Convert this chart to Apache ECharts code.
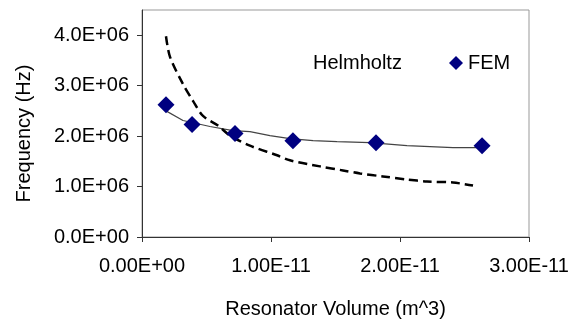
<!DOCTYPE html>
<html>
<head>
<meta charset="utf-8">
<script src="https://cdn.jsdelivr.net/npm/echarts@6/dist/echarts.min.js"></script>
<style>
  html, body { margin: 0; padding: 0; background: #fff; }
  #chart { width: 581px; height: 324px; }
</style>
</head>
<body>
<div id="chart"></div>
<script>
// axis ticks
var xTicks = [0, 1e-11, 2e-11, 3e-11];
var yTicks = [0, 1e6, 2e6, 3e6, 4e6];

// FEM points (diamonds)
var femX = [1.86e-12, 3.88e-12, 7.21e-12, 1.17e-11, 1.814e-11, 2.636e-11];
var femY = [2.62e6, 2.23e6, 2.05e6, 1.91e6, 1.87e6, 1.81e6];

// thin solid curve through the FEM points
var fitX = [1.86e-12, 3.18e-12, 5.27e-12, 7.05e-12, 8.37e-12, 9.92e-12, 1.147e-11, 1.326e-11, 1.512e-11, 1.767e-11, 2.054e-11, 2.411e-11, 2.62e-11];
var fitY = [2.50e6, 2.31e6, 2.19e6, 2.11e6, 2.09e6, 2.01e6, 1.95e6, 1.91e6, 1.89e6, 1.87e6, 1.81e6, 1.77e6, 1.77e6];

// Helmholtz estimate (dashed)
var helmX = [1.86e-12, 2.17e-12, 3.18e-12, 3.95e-12, 4.73e-12, 5.89e-12, 6.82e-12, 8.37e-12, 1.047e-11, 1.147e-11, 1.38e-11, 1.558e-11, 1.69e-11, 1.868e-11, 2.054e-11, 2.209e-11, 2.411e-11, 2.566e-11];
var helmY = [3.98e6, 3.57e6, 3.03e6, 2.70e6, 2.40e6, 2.21e6, 2.01e6, 1.81e6, 1.62e6, 1.52e6, 1.40e6, 1.32e6, 1.26e6, 1.20e6, 1.14e6, 1.10e6, 1.08e6, 1.02e6];

function pairs(xs, ys) {
    return xs.map(function (x, i) { return [x, ys[i]]; });
}

// Excel style scientific labels, e.g. 1.00E-11
function sci(v, digits) {
    var s = v.toExponential(digits).toUpperCase();
    var parts = s.split('E');
    var sign = parts[1].charAt(0);
    var exp = parts[1].slice(1);
    if (exp.length < 2) exp = '0' + exp;
    return parts[0] + 'E' + sign + exp;
}

var font = 'Liberation Sans, Arial, sans-serif';
var chart = echarts.init(document.getElementById('chart'));

var option = {
    animation: false,
    textStyle: { fontFamily: font },
    grid: {
        left: 142,
        right: 52,
        top: 10,
        bottom: 85,
        show: true,
        borderColor: '#999',
        borderWidth: 1
    },
    legend: [
        {
            data: [{ name: 'Helmholtz', icon: 'none' }],
            left: 289,
            top: 48,
            itemWidth: 14,
            itemHeight: 14,
            textStyle: { fontSize: 20, color: '#000', fontFamily: font }
        },
        {
            data: [{ name: 'FEM', icon: 'diamond' }],
            left: 444,
            top: 48,
            itemWidth: 14,
            itemHeight: 14,
            itemStyle: { opacity: 1 },
            textStyle: { fontSize: 20, color: '#000', fontFamily: font }
        }
    ],
    xAxis: {
        type: 'value',
        min: 0,
        max: 3e-11,
        name: 'Resonator Volume (m^3)',
        nameLocation: 'middle',
        nameGap: 62,
        nameTextStyle: { fontSize: 20, color: '#000', fontFamily: font },
        axisLine: { lineStyle: { color: '#333', width: 1 } },
        axisTick: { show: true, inside: false, length: 5, customValues: xTicks, lineStyle: { color: '#333' } },
        axisLabel: {
            customValues: xTicks,
            margin: 19,
            fontSize: 20,
            color: '#000',
            fontFamily: font,
            formatter: function (v) { return sci(v, 2); }
        },
        splitLine: { show: false }
    },
    yAxis: {
        type: 'value',
        min: 0,
        max: 4.5e6,
        name: 'Frequency (Hz)',
        nameLocation: 'middle',
        nameGap: 108,
        nameTextStyle: { fontSize: 20, color: '#000', fontFamily: font, padding: [0, 20, 0, 0] },
        axisLine: { show: true, lineStyle: { color: '#333', width: 1 } },
        axisTick: { show: true, inside: false, length: 5, customValues: yTicks, lineStyle: { color: '#333' } },
        axisLabel: {
            customValues: yTicks,
            margin: 13,
            fontSize: 20,
            color: '#000',
            fontFamily: font,
            formatter: function (v) { return sci(v, 1); }
        },
        splitLine: { show: false }
    },
    series: [
        {
            name: 'Helmholtz',
            type: 'line',
            data: pairs(helmX, helmY),
            showSymbol: false,
            symbol: 'none',
            smooth: 0.3,
            lineStyle: { color: '#000', width: 2.5, type: [9, 5] },
            z: 3
        },
        {
            name: 'fit',
            type: 'line',
            data: pairs(fitX, fitY),
            showSymbol: false,
            symbol: 'none',
            lineStyle: { color: '#444', width: 1.2 },
            z: 2
        },
        {
            name: 'FEM',
            type: 'scatter',
            data: pairs(femX, femY),
            symbol: 'diamond',
            symbolSize: 17,
            itemStyle: { color: '#000080', opacity: 1 },
            z: 4
        }
    ]
};

chart.setOption(option);
</script>
</body>
</html>
